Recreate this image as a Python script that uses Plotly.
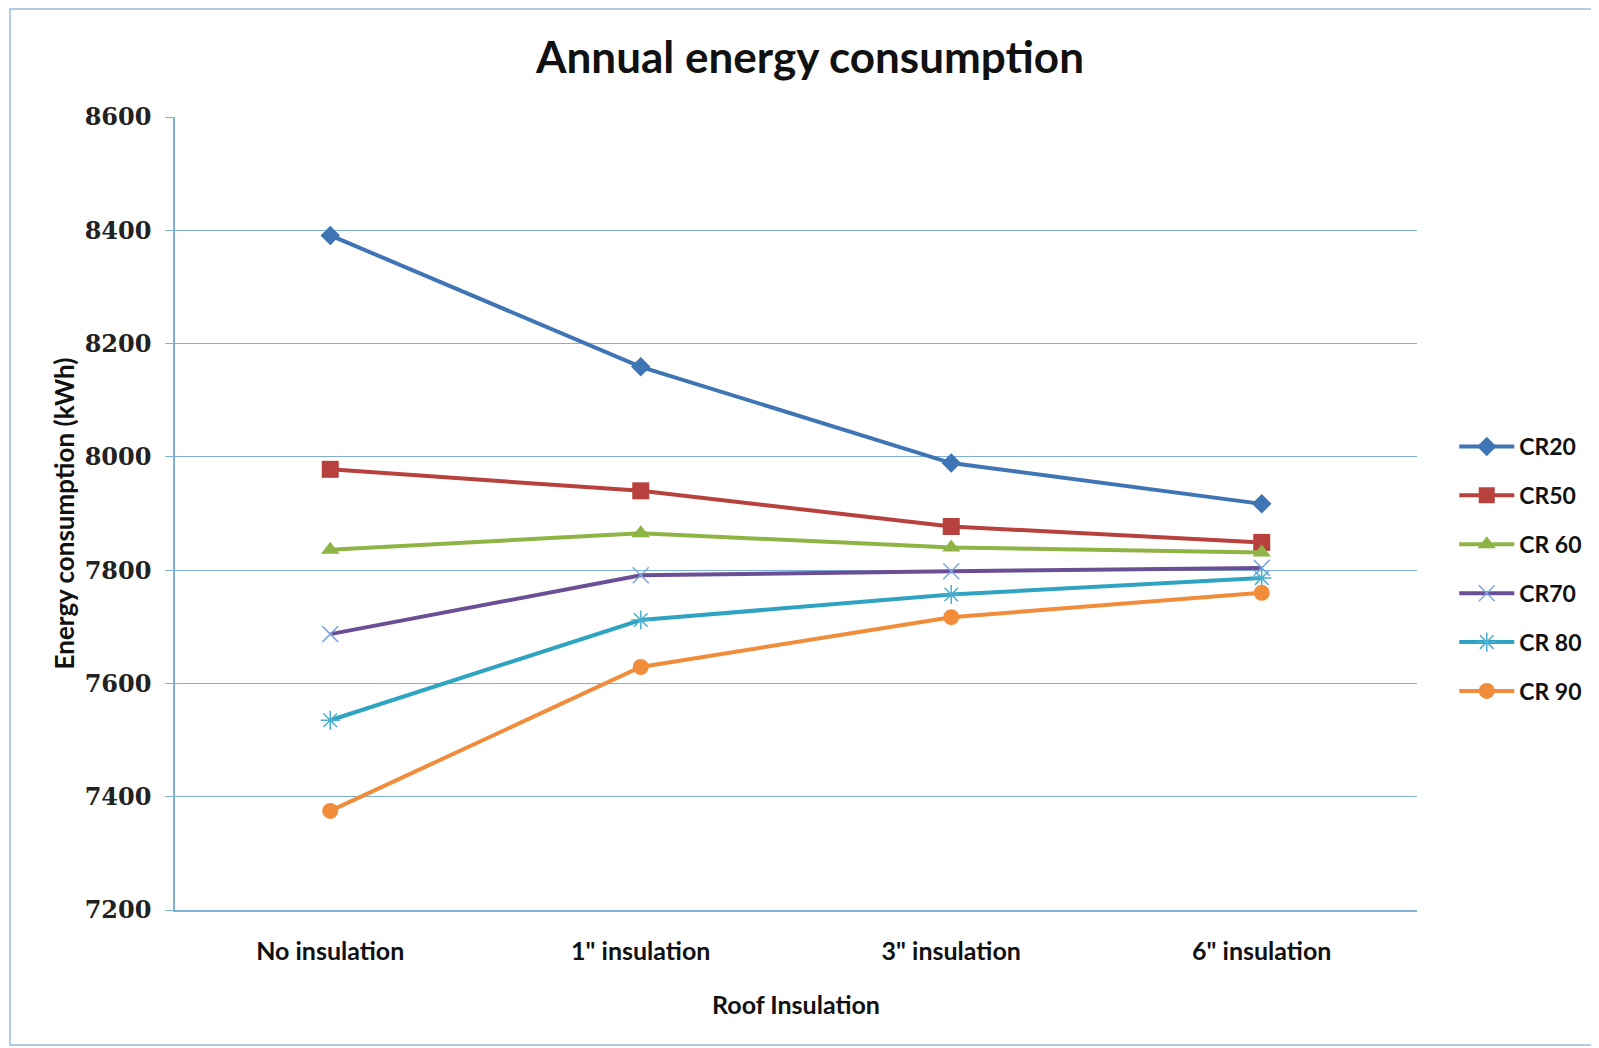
import plotly.graph_objects as go

categories = ["No insulation", "1\" insulation", "3\" insulation", "6\" insulation"]
series_names = ["CR20", "CR50", "CR 60", "CR70", "CR 80", "CR 90"]
cr20 = [8391, 8159, 7989, 7917]
cr50 = [7978, 7940, 7877, 7849]
cr60 = [7836, 7865, 7840, 7831]
cr70 = [7687, 7791, 7798, 7804]
cr80 = [7535, 7712, 7757, 7786]
cr90 = [7375, 7629, 7717, 7760]
y_ticks = [7200, 7400, 7600, 7800, 8000, 8200, 8400, 8600]

values = [cr20, cr50, cr60, cr70, cr80, cr90]
line_colors = ["#3F74B5", "#B8413E", "#8DB445", "#6B4F96", "#2FA4C2", "#F08C3A"]
symbols = ["diamond", "square", "triangle-up", "x-thin-open", "asterisk-open", "circle"]
marker_colors = ["#3F74B5", "#B8413E", "#8DB445", "#7FA6E0", "#4BAFD0", "#F08C3A"]
sizes = [15, 17, 16, 16, 16, 16]

SANS = "Lato, Open Sans, sans-serif"
GRID = "#7FB0D8"
W, H = 1591, 1040
L, R, T, B = 167, 182, 109, 138
PW, PH = W - L - R, H - T - B

fig = go.Figure()
for i, (name, vals) in enumerate(zip(series_names, values)):
    thin = symbols[i] in ("x-thin-open", "asterisk-open")
    fig.add_trace(go.Scatter(
        x=categories, y=vals, name=name, mode="lines+markers",
        legendgroup=name,
        line=dict(color=line_colors[i], width=4),
        marker=dict(
            symbol=symbols[i], size=sizes[i], color=marker_colors[i],
            line=dict(color=marker_colors[i], width=1.5 if thin else 0),
        ),
    ))

fig.update_layout(
    width=W, height=H,
    paper_bgcolor="white", plot_bgcolor="white",
    margin=dict(l=L, r=R, t=T, b=B),
    title=dict(
        text="Annual energy consumption",
        x=802 / W, xanchor="center", y=1 - 50 / H, yanchor="middle",
        font=dict(family=SANS, size=44, color="#111111", weight="bold"),
    ),
    legend=dict(
        x=1.03, xanchor="left", y=0.43, yanchor="middle",
        font=dict(family=SANS, size=23, color="#111111", weight="bold"),
        tracegroupgap=16, itemwidth=55, bgcolor="rgba(0,0,0,0)",
    ),
    xaxis=dict(
        type="category", range=[-0.5, 3.5],
        showline=True, linecolor=GRID, linewidth=1.5,
        showgrid=False, ticks="",
        ticklabelstandoff=18,
        tickfont=dict(family=SANS, size=25, color="#111111", weight="bold"),
        title=dict(text="Roof Insulation", standoff=33,
                   font=dict(family=SANS, size=25, color="#111111", weight="bold")),
    ),
    yaxis=dict(
        range=[7200, 8600], tickvals=y_ticks,
        showline=True, linecolor=GRID, linewidth=1.5,
        showgrid=True, gridcolor=GRID, gridwidth=1.2,
        ticks="outside", ticklen=8, tickcolor=GRID,
        ticklabelstandoff=9,
        tickfont=dict(family="DejaVu Serif, serif", size=24, color="#222222", weight="bold"),
        title=dict(text="Energy consumption (kWh)", standoff=3,
                   font=dict(family=SANS, size=26, color="#111111", weight="bold")),
        zeroline=False,
    ),
    shapes=[dict(
        type="rect", xref="paper", yref="paper",
        x0=(2 - L) / PW, x1=(1587 - L) / PW,
        y0=(H - B - 1037) / PH, y1=(H - B - 1) / PH,
        line=dict(color="#9DBBDD", width=1.5), layer="below",
    )],
)

fig.write_html("out.html")
